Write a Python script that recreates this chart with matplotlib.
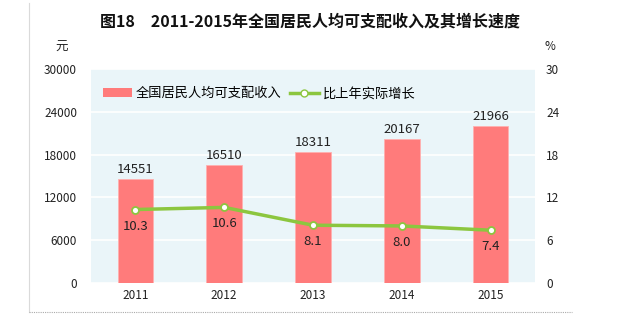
import matplotlib
matplotlib.use("Agg")
import matplotlib.pyplot as plt
from matplotlib.lines import Line2D
from matplotlib.patches import Patch

plt.rcParams['font.family'] = ['Noto Sans CJK SC', 'DejaVu Sans']

years = ["2011", "2012", "2013", "2014", "2015"]
income = [14551, 16510, 18311, 20167, 21966]
growth = [10.3, 10.6, 8.1, 8.0, 7.4]

bar_color = "#FF7B7B"
line_color = "#8CC63F"

fig = plt.figure(figsize=(6.2, 3.28), dpi=100)
fig.patch.set_facecolor("white")

# page frame: left edge solid, bottom dotted
fig.add_artist(Line2D([29 / 620, 29 / 620], [1 - 312 / 328, 1 - 3 / 328],
                      transform=fig.transFigure, color="#DADADA", lw=0.8))
fig.add_artist(Line2D([29 / 620, 572 / 620], [1 - 312 / 328, 1 - 312 / 328],
                      transform=fig.transFigure, color="#AAAAAA", lw=0.8,
                      ls=(0, (1, 1))))

ax = fig.add_axes([91 / 620, 1 - 283 / 328, 444 / 620, 214 / 328])
ax.set_facecolor("#EAF5F9")
x = range(len(years))
ax.bar(x, income, width=0.4, color=bar_color, edgecolor="#FFB0B0",
       linewidth=0.6, zorder=3)
ax.set_ylim(0, 30000)
ax.set_xlim(-0.5, len(years) - 0.5)
ax.set_yticks([0, 6000, 12000, 18000, 24000, 30000])
ax.set_xticks(list(x))
ax.set_xticklabels(years)
ax.yaxis.grid(True, color="white", lw=1.2, zorder=0)
ax.set_axisbelow(True)
for s in ax.spines.values():
    s.set_visible(False)
ax.tick_params(length=0, labelsize=8.5, colors="#222222", pad=10)
ax.tick_params(axis="x", pad=4)
for xi, v in zip(x, income):
    ax.text(xi, v + 500, str(v), ha="center", va="bottom", fontsize=9.5,
            color="#222222")

ax2 = ax.twinx()
ax2.set_ylim(0, 30)
ax2.set_yticks([0, 6, 12, 18, 24, 30])
ax2.plot(list(x), growth, color=line_color, lw=2.5, marker="o", ms=5,
         mfc="white", mec=line_color, mew=1.3, zorder=5)
for s in ax2.spines.values():
    s.set_visible(False)
ax2.tick_params(length=0, labelsize=8.5, colors="#222222", pad=8)
for xi, v in zip(x, growth):
    ax2.text(xi, v - 1.4, f"{v:.1f}", ha="center", va="top", fontsize=9.5,
             color="#222222")

handles = [Patch(facecolor=bar_color, edgecolor="none"),
           Line2D([], [], color=line_color, lw=2.5, marker="o", ms=5,
                  mfc="white", mec=line_color)]
ax2.legend(handles, ["全国居民人均可支配收入", "比上年实际增长"],
           loc="upper left", bbox_to_anchor=(0.0, 0.97), ncol=2,
           frameon=False, fontsize=9.5, handlelength=2.2, handleheight=0.6,
           columnspacing=0.6, handletextpad=0.3)

fig.text(0.5, 1 - 22 / 328, "图18　2011-2015年全国居民人均可支配收入及其增长速度",
         ha="center", va="center", fontsize=11.5, fontweight="bold",
         color="#111111")
fig.text(62 / 620, 1 - 47 / 328, "元", ha="center", va="center",
         fontsize=9, color="#222222")
fig.text(550 / 620, 1 - 47 / 328, "%", ha="center", va="center",
         fontsize=8.5, color="#222222")

fig.savefig("out.png", dpi=100)
